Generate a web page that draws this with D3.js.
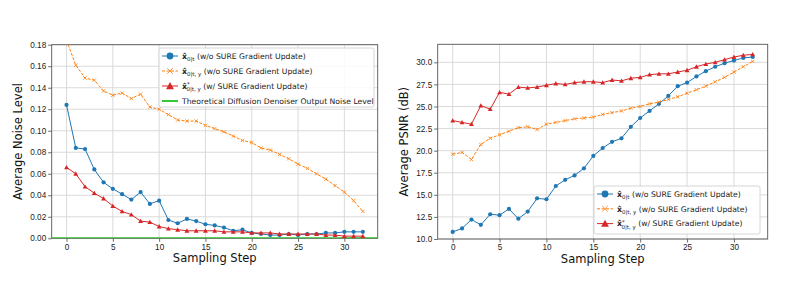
<!DOCTYPE html>
<html>
<head>
<meta charset="utf-8">
<script src="https://cdn.jsdelivr.net/npm/d3@7"></script>
<style>
  body { margin: 0; background: #fff; }
  svg { font-family: "DejaVu Sans", sans-serif; }
</style>
</head>
<body>
<svg id="chart" width="793" height="281"></svg>
<script>
// sampling steps 0..32
const steps = d3.range(0, 33);

// left panel: average noise level
const noiseBlue = [0.124, 0.084, 0.083, 0.064, 0.052, 0.046, 0.041, 0.036, 0.043, 0.032, 0.035,
  0.017, 0.014, 0.018, 0.016, 0.013, 0.012, 0.010, 0.007, 0.008, 0.005, 0.004, 0.003, 0.003,
  0.004, 0.003, 0.004, 0.004, 0.005, 0.005, 0.006, 0.006, 0.006];
const noiseOrange = [0.184, 0.161, 0.149, 0.147, 0.137, 0.133, 0.135, 0.130, 0.134, 0.122, 0.120,
  0.115, 0.110, 0.109, 0.109, 0.105, 0.102, 0.099, 0.095, 0.091, 0.089, 0.084, 0.082, 0.078,
  0.074, 0.069, 0.065, 0.060, 0.055, 0.049, 0.043, 0.035, 0.025];
const noiseRed = [0.066, 0.060, 0.048, 0.042, 0.037, 0.030, 0.025, 0.022, 0.016, 0.015, 0.011,
  0.009, 0.008, 0.007, 0.007, 0.007, 0.007, 0.006, 0.006, 0.006, 0.005, 0.005, 0.005, 0.004,
  0.004, 0.004, 0.004, 0.004, 0.003, 0.003, 0.002, 0.002, 0.002];
const theoryNoise = 0.0;

// right panel: average PSNR (dB)
const psnrBlue = [10.8, 11.2, 12.2, 11.6, 12.8, 12.7, 13.4, 12.3, 13.1, 14.6, 14.5,
  16.0, 16.7, 17.2, 18.0, 19.4, 20.3, 21.0, 21.4, 22.7, 23.7, 24.5, 25.3, 26.2,
  27.3, 27.7, 28.4, 29.0, 29.5, 29.9, 30.2, 30.5, 30.6];
const psnrOrange = [19.6, 19.8, 19.0, 20.7, 21.4, 21.8, 22.2, 22.6, 22.7, 22.4, 23.0,
  23.2, 23.4, 23.6, 23.7, 23.8, 24.1, 24.3, 24.5, 24.8, 25.0, 25.3, 25.5, 25.8,
  26.1, 26.5, 26.9, 27.3, 27.8, 28.3, 28.9, 29.5, 30.1];
const psnrRed = [23.4, 23.2, 23.0, 25.1, 24.7, 26.6, 26.4, 27.2, 27.1, 27.2, 27.4,
  27.6, 27.5, 27.7, 27.8, 27.8, 27.7, 28.0, 27.9, 28.2, 28.3, 28.6, 28.7, 28.7,
  28.9, 29.1, 29.5, 29.8, 30.0, 30.3, 30.6, 30.8, 30.9];

const xTicks = [0, 5, 10, 15, 20, 25, 30];
const noiseTicks = [0, 0.02, 0.04, 0.06, 0.08, 0.10, 0.12, 0.14, 0.16, 0.18];
const psnrTicks = [10, 12.5, 15, 17.5, 20, 22.5, 25, 27.5, 30];

const C = { blue: '#1f77b4', orange: '#ff7f0e', red: '#d62728', green: '#35c935' };

const svg = d3.select('#chart');

function panel(opts) {
  const g = svg.append('g');
  const x = d3.scaleLinear().domain([-1.6, 33.6]).range([opts.left, opts.right]);
  const y = d3.scaleLinear().domain(opts.yDomain).range([opts.bottom, opts.top]);
  const clipId = 'clip' + opts.id;

  g.append('clipPath').attr('id', clipId).append('rect')
    .attr('x', opts.left).attr('y', opts.top)
    .attr('width', opts.right - opts.left).attr('height', opts.bottom - opts.top);

  // grid
  g.append('g').selectAll('line').data(xTicks).join('line')
    .attr('x1', d => x(d)).attr('x2', d => x(d))
    .attr('y1', opts.top).attr('y2', opts.bottom)
    .attr('stroke', '#d6d6d6').attr('stroke-width', 0.9);
  g.append('g').selectAll('line').data(opts.yTicks).join('line')
    .attr('x1', opts.left).attr('x2', opts.right)
    .attr('y1', d => y(d)).attr('y2', d => y(d))
    .attr('stroke', '#d6d6d6').attr('stroke-width', 0.9);

  // axes
  const xAxis = g.append('g').attr('transform', `translate(0,${opts.bottom})`)
    .call(d3.axisBottom(x).tickValues(xTicks).tickSize(3.5).tickPadding(2).tickFormat(d3.format('d')));
  const yAxis = g.append('g').attr('transform', `translate(${opts.left},0)`)
    .call(d3.axisLeft(y).tickValues(opts.yTicks).tickSize(3.5).tickPadding(2).tickFormat(d3.format(opts.fmt)));
  [xAxis, yAxis].forEach(a => {
    a.select('.domain').remove();
    a.selectAll('line').attr('stroke', '#444').attr('stroke-width', 0.8);
    a.selectAll('text').attr('fill', '#222').style('font-size', '8.2px');
  });

  // frame
  g.append('rect').attr('x', opts.left).attr('y', opts.top)
    .attr('width', opts.right - opts.left).attr('height', opts.bottom - opts.top)
    .attr('fill', 'none').attr('stroke', '#555').attr('stroke-width', 0.9);

  const plot = g.append('g').attr('clip-path', `url(#${clipId})`);
  if (opts.hline !== undefined) {
    plot.append('line').attr('x1', opts.left).attr('x2', opts.right)
      .attr('y1', y(opts.hline)).attr('y2', y(opts.hline))
      .attr('stroke', C.green).attr('stroke-width', 2);
  }

  const line = d3.line().x((d, i) => x(steps[i])).y(d => y(d));
  opts.series.forEach(s => {
    plot.append('path').datum(s.values).attr('d', line)
      .attr('fill', 'none').attr('stroke', s.color).attr('stroke-width', 1)
      .attr('stroke-dasharray', s.dash || null);
    const pts = plot.append('g').selectAll('g').data(s.values).join('g')
      .attr('transform', (d, i) => `translate(${x(steps[i])},${y(d)})`);
    drawMarker(pts, s.marker, s.color, s.marker === 'x' ? 1.7 : 2.1);
  });

  // labels
  g.append('text').attr('x', (opts.left + opts.right) / 2).attr('y', opts.bottom + 24)
    .attr('text-anchor', 'middle').style('font-size', '11.5px').attr('fill', '#111')
    .text('Sampling Step');
  g.append('text').attr('transform', `translate(${opts.ylabelX},${(opts.top + opts.bottom) / 2}) rotate(-90)`)
    .attr('text-anchor', 'middle').style('font-size', '11.5px').attr('fill', '#111')
    .text(opts.ylabel);

  // legend
  const L = opts.legend;
  const lg = g.append('g');
  lg.append('rect').attr('x', L.x).attr('y', L.y).attr('width', L.w).attr('height', L.h)
    .attr('rx', 2).attr('fill', 'white').attr('fill-opacity', 0.85)
    .attr('stroke', '#cccccc').attr('stroke-width', 0.8);
  L.items.forEach((it, i) => {
    const cy = L.y + 8 + i * L.step;
    const hx = L.x + 3;
    lg.append('line').attr('x1', hx).attr('x2', hx + 16).attr('y1', cy).attr('y2', cy)
      .attr('stroke', it.color).attr('stroke-width', it.marker ? 1 : 2)
      .attr('stroke-dasharray', it.dash || null);
    if (it.marker) {
      const m = lg.append('g').attr('transform', `translate(${hx + 8},${cy})`);
      drawMarker(m, it.marker, it.color, it.marker === 'x' ? 2.8 : 3.4);
    }
    const t = lg.append('text').attr('x', hx + 20).attr('y', cy + 2.7)
      .style('font-size', '7.7px').attr('fill', '#222');
    if (it.sub) {
      t.append('tspan').style('font-weight', 'bold').text('x\u0302');
      if (it.star) t.append('tspan').attr('dy', -2.6).style('font-size', '5.5px').text('*');
      t.append('tspan').attr('dy', it.star ? 4.8 : 2.2).attr('dx', it.star ? -3.2 : 0)
        .style('font-size', '5.5px').text(it.sub);
      t.append('tspan').attr('dy', -2.2).text(' ' + it.label);
    } else {
      t.text(it.label);
    }
  });
}

function drawMarker(sel, type, color, r) {
  if (type === 'o') {
    sel.append('circle').attr('r', r).attr('fill', color);
  } else if (type === 'x') {
    sel.append('path').attr('d', `M${-r},${-r}L${r},${r}M${-r},${r}L${r},${-r}`)
      .attr('stroke', color).attr('stroke-width', 0.8).attr('fill', 'none');
  } else if (type === '^') {
    const s = r * 1.15;
    sel.append('path').attr('d', `M0,${-s}L${s},${s * 0.8}L${-s},${s * 0.8}Z`).attr('fill', color);
  }
}

panel({
  id: 'L', left: 51.7, right: 377.7, top: 44.7, bottom: 238.3,
  yDomain: [0, 0.18], yTicks: noiseTicks, fmt: '.2f',
  ylabel: 'Average Noise Level', ylabelX: 22, hline: theoryNoise,
  series: [
    { values: noiseBlue, color: C.blue, marker: 'o' },
    { values: noiseOrange, color: C.orange, marker: 'x', dash: '3,1.5' },
    { values: noiseRed, color: C.red, marker: '^' }
  ],
  legend: {
    x: 159, y: 48, w: 215, h: 59, step: 15,
    items: [
      { color: C.blue, marker: 'o', sub: '0|t', label: '(w/o SURE Gradient Update)' },
      { color: C.orange, marker: 'x', dash: '3,1.5', sub: '0|t, y', label: '(w/o SURE Gradient Update)' },
      { color: C.red, marker: '^', sub: '0|t, y', star: true, label: '(w/ SURE Gradient Update)' },
      { color: C.green, label: 'Theoretical Diffusion Denoiser Output Noise Level' }
    ]
  }
});

panel({
  id: 'R', left: 437.7, right: 767.7, top: 44.3, bottom: 239,
  yDomain: [10, 32.04], yTicks: psnrTicks, fmt: '.1f',
  ylabel: 'Average PSNR (dB)', ylabelX: 408,
  series: [
    { values: psnrBlue, color: C.blue, marker: 'o' },
    { values: psnrOrange, color: C.orange, marker: 'x', dash: '3,1.5' },
    { values: psnrRed, color: C.red, marker: '^' }
  ],
  legend: {
    x: 594, y: 186, w: 166, h: 48, step: 14.8,
    items: [
      { color: C.blue, marker: 'o', sub: '0|t', label: '(w/o SURE Gradient Update)' },
      { color: C.orange, marker: 'x', dash: '3,1.5', sub: '0|t, y', label: '(w/o SURE Gradient Update)' },
      { color: C.red, marker: '^', sub: '0|t, y', star: true, label: '(w/ SURE Gradient Update)' }
    ]
  }
});
</script>
</body>
</html>
